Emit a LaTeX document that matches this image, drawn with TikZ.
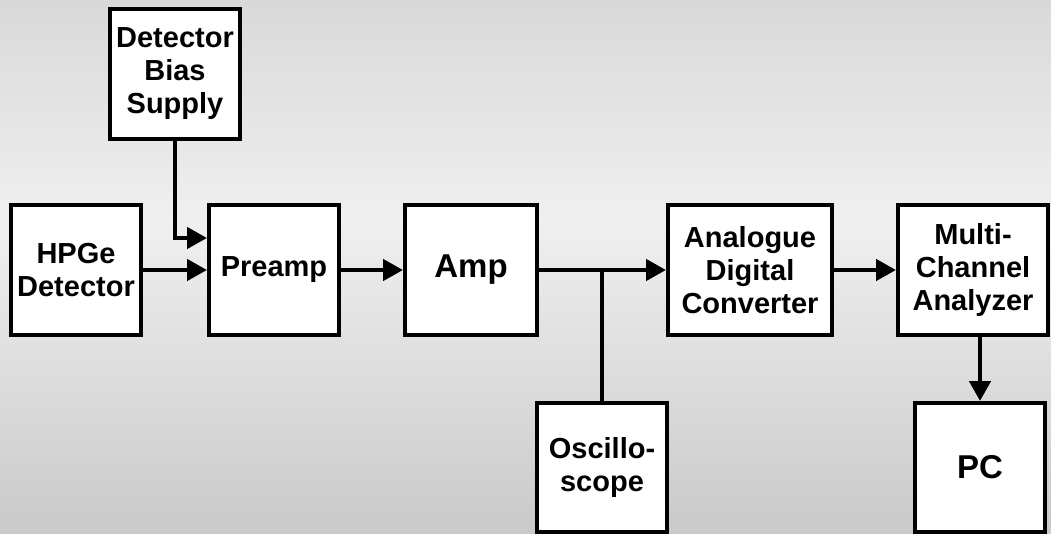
\documentclass[tikz,border=0pt]{standalone}
\usepackage{fontspec}
\setmainfont{Liberation Sans}
\usetikzlibrary{arrows.meta}

\begin{document}
\begin{tikzpicture}[x=1pt,y=-1pt,
  blk/.style={draw=black, line width=4pt, fill=white, rectangle,
    inner sep=0pt, align=center, minimum width=130pt, minimum height=130pt,
    font=\fontsize{29}{33}\selectfont\bfseries},
  big/.style={font=\fontsize{33}{37}\selectfont\bfseries},
  wire/.style={line width=4.5pt, black},
  sig/.style={wire, -{Triangle[length=20pt,width=21pt]}}]

% backdrop: grey with a lighter band across the middle
\useasboundingbox (0,0) rectangle (1051,534);
\shade[top color=black!15, bottom color=black!6] (0,0) rectangle (1051,220);
\shade[top color=black!6, bottom color=black!21] (0,220) rectangle (1051,534);

% blocks
\node[blk] (bias)   at (175,74)  {Detector\\Bias\\Supply};
\node[blk] (hpge)   at (76,270)  {HPGe\\Detector};
\node[blk] (preamp) at (274,270) {Preamp};
\node[blk, big, minimum width=132pt] (amp) at (471,270) {Amp};
\node[blk, minimum width=164pt] (adc) at (750,270) {Analogue\\Digital\\Converter};
\node[blk, minimum width=150pt] (mca) at (973,270) {Multi-\\Channel\\Analyzer};
\node[blk, minimum height=129pt] (osc) at (602,467.5) {Oscillo-\\scope};
\node[blk, big, minimum height=129pt] (pc)  at (980,467.5) {PC};

% signal path
\coordinate (biasin) at ([yshift=32pt]preamp.west);
\draw[sig] (bias.south) |- (biasin);
\draw[sig] (hpge) -- (preamp);
\draw[sig] (preamp) -- (amp);
\draw[sig] (amp) -- (adc);
\draw[sig] (adc) -- (mca);
\draw[sig] (mca.south -| pc.north) -- (pc.north);
\coordinate (tap) at (osc.north |- amp.east);
\draw[wire] (tap) -- (osc.north);

\end{tikzpicture}
\end{document}
